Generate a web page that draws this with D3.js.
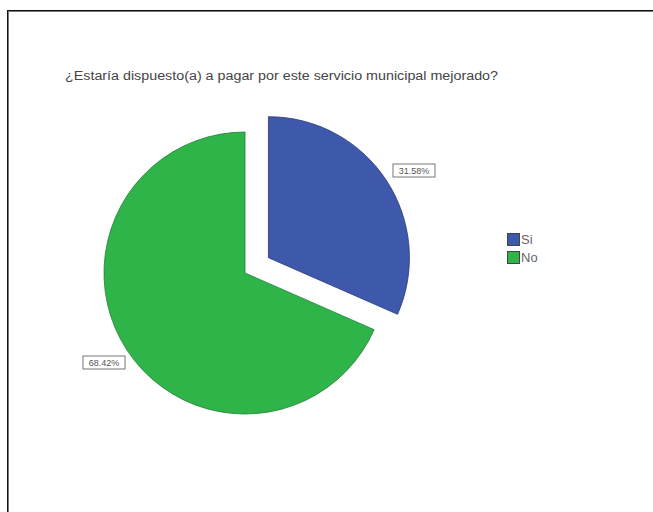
<!DOCTYPE html>
<html>
<head>
<meta charset="utf-8">
<script src="https://cdn.jsdelivr.net/npm/d3@7/dist/d3.min.js"></script>
<style>
  html, body { margin: 0; padding: 0; background: #fff; }
  svg { display: block; }
</style>
</head>
<body>
<svg id="chart" width="653" height="512"></svg>
<script>
// Response categories and their shares (percent)
const categories = ["Si", "No"];
const values = [31.58, 68.42];
const colors = ["#3e58ac", "#2eb448"];
const title = "¿Estaría dispuesto(a) a pagar por este servicio municipal mejorado?";

const svg = d3.select("#chart");

// outer frame (double line)
svg.append("rect").attr("x", 7.5).attr("y", 10.5).attr("width", 660).attr("height", 520)
  .attr("fill", "none").attr("stroke", "#111").attr("stroke-width", 1);
svg.append("rect").attr("x", 8.5).attr("y", 11.5).attr("width", 660).attr("height", 520)
  .attr("fill", "none").attr("stroke", "#777").attr("stroke-width", 1);

// title
svg.append("text")
  .attr("x", 65).attr("y", 80)
  .attr("font-family", "Liberation Sans, Arial, sans-serif")
  .attr("font-size", 12)
  .attr("fill", "#444")
  .attr("textLength", 433)
  .attr("lengthAdjust", "spacingAndGlyphs")
  .text(title);

// pie geometry
const cx = 245, cy = 273, r = 141, explode = 28;

const pie = d3.pie().sort(null).value(d => d)(values);
const arc = d3.arc().innerRadius(0).outerRadius(r);

const g = svg.append("g").attr("transform", `translate(${cx},${cy})`);

g.selectAll("path.slice")
  .data(pie)
  .join("path")
  .attr("class", "slice")
  .attr("transform", (d, i) => {
    if (i !== 0) return null;
    const a = (d.startAngle + d.endAngle) / 2;
    return `translate(${Math.sin(a) * explode},${-Math.cos(a) * explode})`;
  })
  .attr("d", arc)
  .attr("fill", (d, i) => colors[i])
  .attr("stroke", (d, i) => i === 0 ? "#2a3a78" : "#1f7f33")
  .attr("stroke-width", 0.8);

// percentage labels in boxes
const fmt = v => v.toFixed(2) + "%";
const labelPos = [
  { x: 414, y: 170.5 },
  { x: 104, y: 362.5 }
];
labelPos.forEach((p, i) => {
  const lg = svg.append("g").attr("transform", `translate(${p.x},${p.y})`);
  lg.append("rect")
    .attr("x", -21).attr("y", -6.5).attr("width", 42).attr("height", 13)
    .attr("fill", "#fff").attr("stroke", "#777").attr("stroke-width", 1);
  lg.append("text")
    .attr("text-anchor", "middle").attr("dy", "0.35em")
    .attr("font-family", "Liberation Sans, Arial, sans-serif")
    .attr("font-size", 9)
    .attr("fill", "#555")
    .text(fmt(values[i]));
});

// legend
const legend = svg.append("g").attr("transform", "translate(507,233)");
categories.forEach((c, i) => {
  const row = legend.append("g").attr("transform", `translate(0,${i * 18})`);
  row.append("rect").attr("x", 0.5).attr("y", 0.5).attr("width", 12).attr("height", 12)
    .attr("fill", colors[i]).attr("stroke", "#444").attr("stroke-width", 1);
  row.append("text").attr("x", 14).attr("y", 11)
    .attr("font-family", "Liberation Sans, Arial, sans-serif")
    .attr("font-size", 13).attr("fill", "#666")
    .text(c);
});
</script>
</body>
</html>
